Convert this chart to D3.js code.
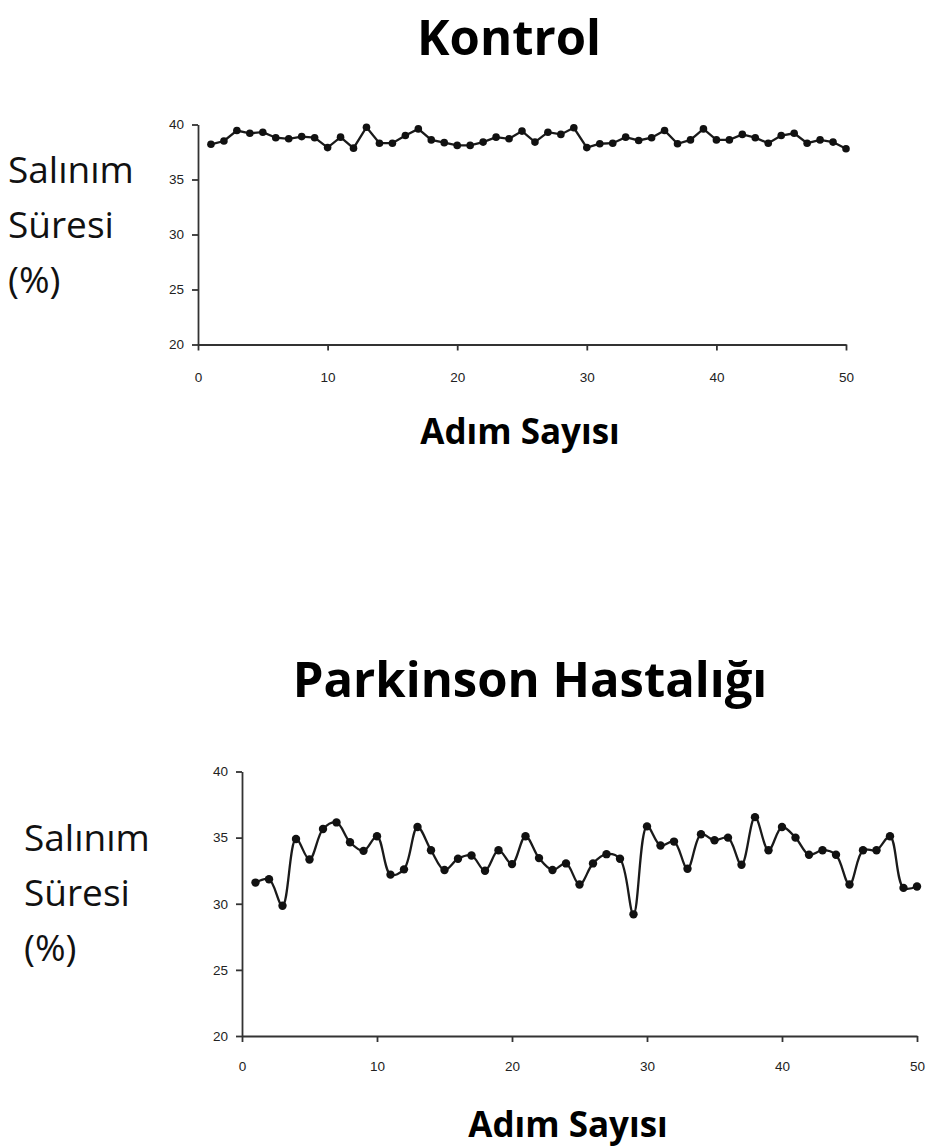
<!DOCTYPE html>
<html>
<head>
<meta charset="utf-8">
<script src="https://cdn.jsdelivr.net/npm/d3@7"></script>
<style>
  body { margin: 0; background: #fff; }
  .tick text { font-family: "Liberation Sans", Arial, sans-serif; font-size: 13.5px; fill: #222; }
  .axis path, .axis line { stroke: #333; stroke-width: 1.8; }
</style>
</head>
<body>
<script>
// step numbers (x), shared by both panels
var steps = [1,2,3,4,5,6,7,8,9,10,11,12,13,14,15,16,17,18,19,20,
             21,22,23,24,25,26,27,28,29,30,31,32,33,34,35,36,37,38,39,40,
             41,42,43,44,45,46,47,48,49,50];

// swing time (%) - control
var kontrol = [38.2,38.5,39.45,39.2,39.3,38.8,38.7,38.9,38.8,37.9,
               38.85,37.85,39.75,38.3,38.3,39.0,39.6,38.6,38.35,38.1,
               38.1,38.4,38.85,38.7,39.4,38.4,39.3,39.1,39.7,37.9,
               38.25,38.3,38.85,38.55,38.8,39.45,38.25,38.6,39.6,38.6,
               38.6,39.1,38.8,38.3,39.0,39.2,38.3,38.6,38.4,37.8];

// swing time (%) - parkinson
var parkinson = [31.6,31.85,29.85,34.9,33.35,35.65,36.15,34.65,34.0,35.1,
                 32.2,32.6,35.8,34.05,32.55,33.4,33.65,32.5,34.05,33.0,
                 35.1,33.45,32.55,33.05,31.45,33.05,33.75,33.4,29.2,35.85,
                 34.4,34.7,32.65,35.25,34.8,35.0,32.95,36.55,34.05,35.8,
                 35.0,33.7,34.05,33.7,31.45,34.05,34.05,35.1,31.2,31.3];

var xTicks = [0,10,20,30,40,50];
var yTicks = [20,25,30,35,40];
var yLabelLines = ["Salınım","Süresi","(%)"];

var width = 928, height = 1148;

var svg = d3.select("body").append("svg")
    .attr("width", width)
    .attr("height", height);

function draw_panel(opt){
  var x = d3.scaleLinear().domain([0,50]).range([opt.left, opt.right]);
  var y = d3.scaleLinear().domain([20,40]).range([opt.bottom, opt.top]);

  svg.append("text")
    .attr("x", opt.titleX).attr("y", opt.titleY)
    .attr("text-anchor","middle")
    .style("font-family","'Open Sans', sans-serif")
    .style("font-weight","bold")
    .style("font-size","49px")
    .text(opt.title);

  svg.append("g")
    .attr("class","axis")
    .attr("transform","translate(0," + opt.bottom + ")")
    .call(d3.axisBottom(x).tickValues(xTicks).tickSize(6).tickSizeOuter(0).tickPadding(opt.xPad));

  svg.append("g")
    .attr("class","axis")
    .attr("transform","translate(" + opt.left + ",0)")
    .call(d3.axisLeft(y).tickValues(yTicks).tickSize(6).tickSizeOuter(0).tickPadding(8));

  var line = d3.line()
    .x(function(d,i){ return x(steps[i]); })
    .y(function(d){ return y(d); })
    .curve(opt.curve);

  svg.append("path")
    .datum(opt.values)
    .attr("fill","none")
    .attr("stroke","#1a1a1a")
    .attr("stroke-width",2.3)
    .attr("d", line);

  svg.selectAll(null)
    .data(opt.values)
    .enter().append("circle")
    .attr("cx", function(d,i){ return x(steps[i]); })
    .attr("cy", function(d){ return y(d); })
    .attr("r", opt.r)
    .attr("fill","#111");

  var lab = svg.append("text")
    .style("font-family","'Open Sans', sans-serif")
    .style("font-size","37px")
    .attr("fill","#111");
  yLabelLines.forEach(function(t,i){
    lab.append("tspan").attr("x", opt.labX).attr("y", opt.labY + i*opt.labStep).text(t);
  });

  svg.append("text")
    .attr("x", opt.xTitleX).attr("y", opt.xTitleY)
    .attr("text-anchor","middle")
    .style("font-family","'Open Sans', sans-serif")
    .style("font-weight","bold")
    .style("font-size","35px")
    .text("Adım Sayısı");
}

draw_panel({title:"Kontrol", titleX:509, titleY:55,
  left:198, right:846, top:124.5, bottom:344.5, xPad:22,
  values:kontrol, curve:d3.curveLinear, r:3.8,
  labX:8, labY:183, labStep:55, xTitleX:520, xTitleY:444});

draw_panel({title:"Parkinson Hastalığı", titleX:530, titleY:697,
  left:242, right:917, top:771.5, bottom:1036, xPad:19,
  values:parkinson, curve:d3.curveCatmullRom, r:4.2,
  labX:24, labY:851, labStep:55, xTitleX:568, xTitleY:1137});
</script>
</body>
</html>
